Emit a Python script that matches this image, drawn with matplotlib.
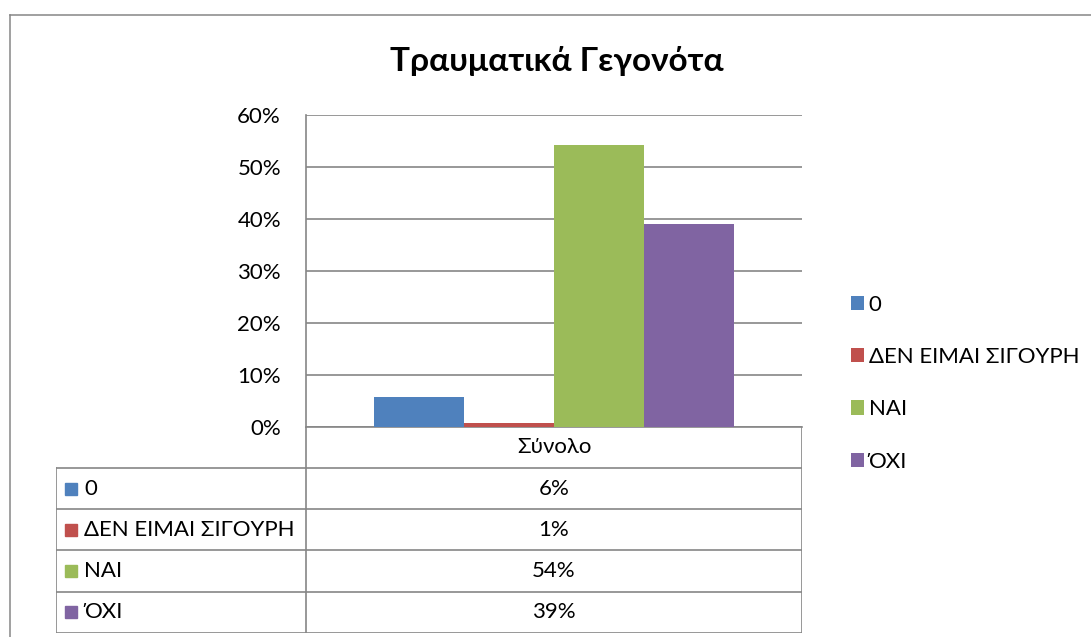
import matplotlib
matplotlib.use("Agg")
import matplotlib.pyplot as plt
from matplotlib.patches import Rectangle
from matplotlib.ticker import PercentFormatter

plt.rcParams['font.family'] = ['Lato', 'Noto Sans', 'DejaVu Sans']

# data
title = "Τραυματικά Γεγονότα"
category = "Σύνολο"
series_names = ["0", "ΔΕΝ ΕΙΜΑΙ ΣΙΓΟΥΡΗ", "ΝΑΙ", "ΌΧΙ"]
series_values = [0.058, 0.008, 0.543, 0.391]
table_labels = ["6%", "1%", "54%", "39%"]
colors = ["#4F81BD", "#C0504D", "#9BBB59", "#8064A2"]
yticks = [0, 0.1, 0.2, 0.3, 0.4, 0.5, 0.6]

W, H = 1091, 637
grid_col = "#868686"
fs = 16

fig = plt.figure(figsize=(W / 100, H / 100), dpi=100)

# outer chart border (runs off the right and bottom edges)
fig.add_artist(plt.Line2D([10 / W, 1], [1 - 15 / H, 1 - 15 / H], color=grid_col, lw=1.1))
fig.add_artist(plt.Line2D([10 / W, 10 / W], [0, 1 - 15 / H], color=grid_col, lw=1.1))

fig.text(557 / W, 1 - 61 / H, title, ha="center", va="center",
         fontsize=24, fontweight="bold")

# plot area
ax = fig.add_axes([306 / W, 1 - 427 / H, 496 / W, 312 / H])
n = len(series_values)
bw = 1 / (n + 1.5)
bars = []
for i, (name, v) in enumerate(zip(series_names, series_values)):
    b = ax.bar(0 + (i - (n - 1) / 2) * bw, v, width=bw, color=colors[i], label=name, zorder=3)
    bars.append(b)
ax.set_xlim(-0.5, 0.5)
ax.set_ylim(0, 0.6)
ax.set_yticks(yticks)
ax.yaxis.set_major_formatter(PercentFormatter(xmax=1, decimals=0))
ax.set_xticks([])
ax.tick_params(axis="y", length=0, pad=18, labelsize=fs)
ax.grid(axis="y", color=grid_col, lw=1.2, zorder=0)
for s in ["top", "right"]:
    ax.spines[s].set_visible(False)
for s in ["left", "bottom"]:
    ax.spines[s].set_color(grid_col)
    ax.spines[s].set_linewidth(1.2)

# legend on the right
fig.legend(handles=[b[0] for b in bars], labels=series_names, loc="upper left",
           bbox_to_anchor=(842 / W, 1 - 286 / H), frameon=False, fontsize=fs,
           handlelength=0.6, handleheight=0.6, handletextpad=0.2,
           labelspacing=1.45, borderaxespad=0)

# data table below the plot
tx0, tx1, tmid = 56, 802, 306
ty0, ty1 = 427, 633
tax = fig.add_axes([tx0 / W, 1 - ty1 / H, (tx1 - tx0) / W, (ty1 - ty0) / H])
tax.set_xlim(tx0, tx1)
tax.set_ylim(ty1, ty0)
tax.axis("off")
head = 468
rh = (ty1 - head) / n
lk = dict(color=grid_col, lw=1.2)
# header cell
tax.plot([tmid, tmid], [ty0, ty1], **lk)
tax.plot([tx1, tx1], [ty0, ty1], **lk)
tax.plot([tx0, tx0], [head, ty1], **lk)
tax.text((tmid + tx1) / 2, (ty0 + head) / 2, category, ha="center", va="center", fontsize=fs)
for r in range(n + 1):
    y = head + r * rh
    tax.plot([tx0, tx1], [y, y], **lk)
for r, (name, lab) in enumerate(zip(series_names, table_labels)):
    yc = head + (r + 0.5) * rh
    tax.add_patch(Rectangle((65, yc - 6), 12, 12, color=colors[r], clip_on=False))
    tax.text(84, yc, name, ha="left", va="center", fontsize=fs)
    tax.text((tmid + tx1) / 2, yc, lab, ha="center", va="center", fontsize=fs)

fig.savefig("out.png", dpi=100)
